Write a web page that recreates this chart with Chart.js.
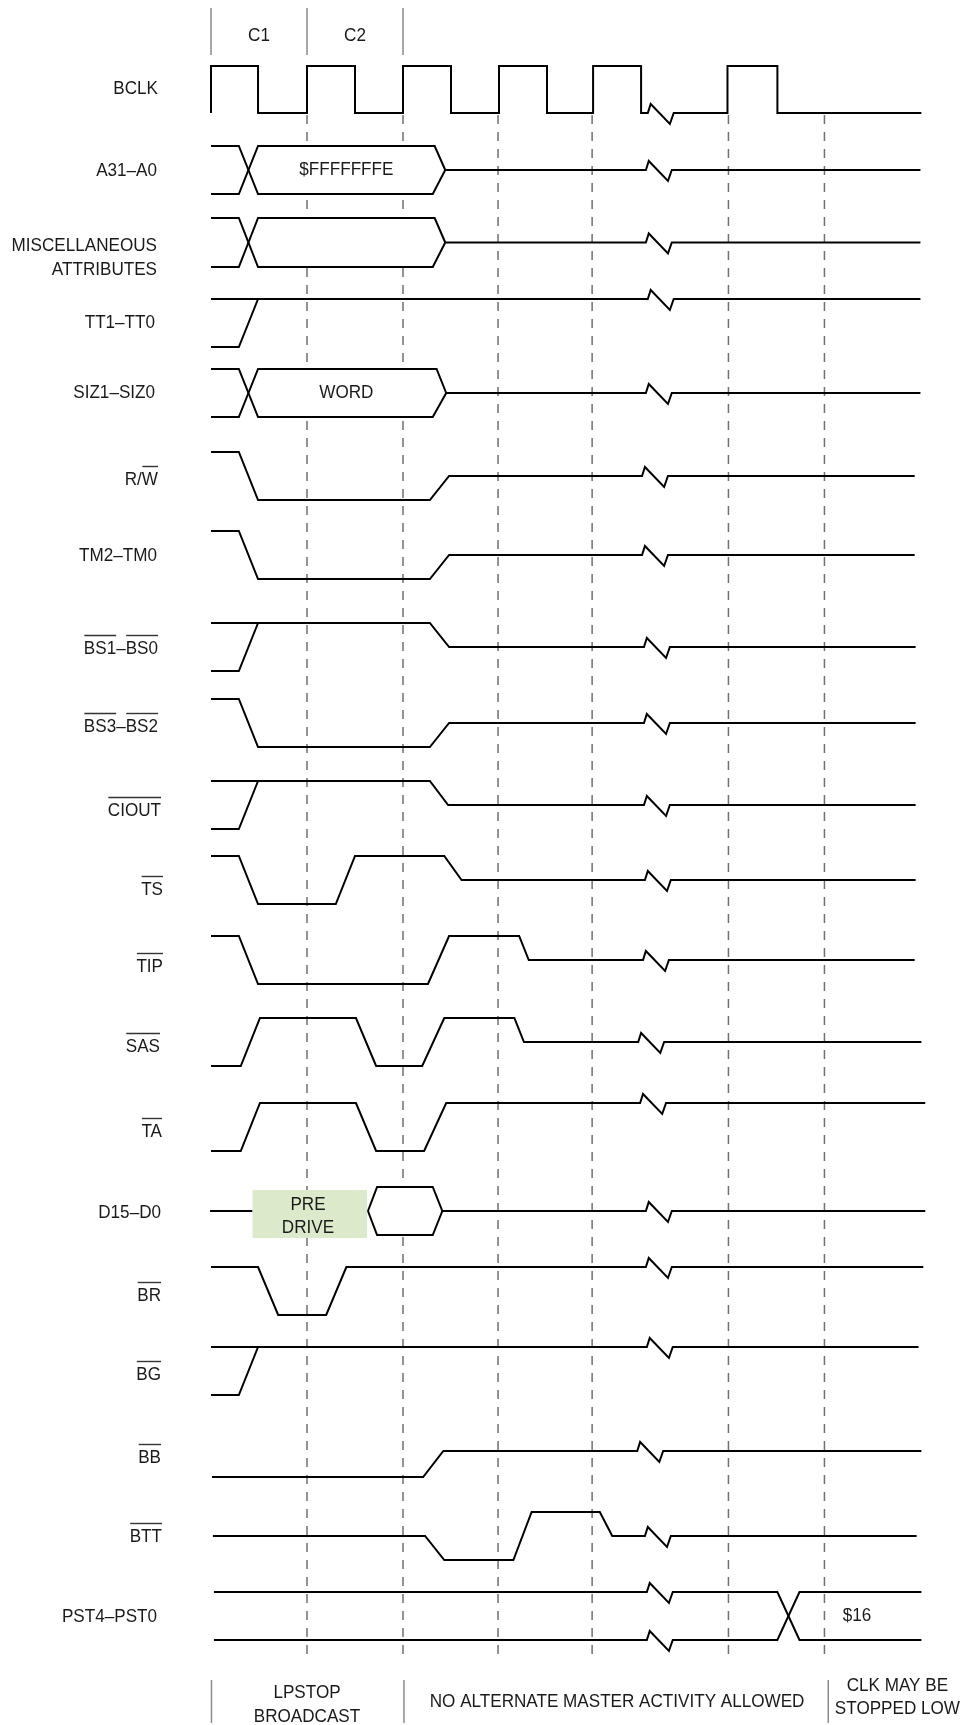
<!DOCTYPE html>
<html>
<head>
<meta charset="utf-8">
<script src="https://cdn.jsdelivr.net/npm/chart.js@4.4.0/dist/chart.umd.min.js"></script>
<style>
html,body{margin:0;padding:0;background:#fff;}
canvas{display:block;}
</style>
</head>
<body>
<canvas id="c" width="966" height="1725"></canvas>
<script>
// ================= DATA =================
// time unit = 1 bus clock cycle (t = 0 at the first BCLK rising edge); level: 1 = high, 0 = low, 0.5 = three-state
const signalLabels = [
  [[['BCLK',0]]],
  [[['A31–A0',0]]],
  [[['MISCELLANEOUS',0]],[['ATTRIBUTES',0]]],
  [[['TT1–TT0',0]]],
  [[['SIZ1–SIZ0',0]]],
  [[['R/',0],['W',1]]],
  [[['TM2–TM0',0]]],
  [[['BS1',1],['–',0],['BS0',1]]],
  [[['BS3',1],['–',0],['BS2',1]]],
  [[['CIOUT',1]]],
  [[['TS',1]]],
  [[['TIP',1]]],
  [[['SAS',1]]],
  [[['TA',1]]],
  [[['D15–D0',0]]],
  [[['BR',1]]],
  [[['BG',1]]],
  [[['BB',1]]],
  [[['BTT',1]]],
  [[['PST4–PST0',0]]]
];

const BCLK = [[[0,0],[0,1],[0.49,1],[0.49,0],[1,0],[1,1],[1.5,1],[1.5,0],[2,0],[2,1],[2.5,1],[2.5,0],[3,0],[3,1],[3.5,1],[3.5,0],[3.98,0],[3.98,1],[4.48,1],[4.48,0],[5.38,0],[5.38,1],[5.9,1],[5.9,0],[7.4,0]]];
const A31_A0 = [[[0,1],[0.29,1],[0.49,0],[2.31,0],[2.44,0.5],[7.39,0.5]], [[0,0],[0.29,0],[0.49,1],[2.33,1],[2.44,0.5]]];
const MISC_ATTR = [[[0,1],[0.29,1],[0.49,0],[2.31,0],[2.44,0.5],[7.39,0.5]], [[0,0],[0.29,0],[0.49,1],[2.33,1],[2.44,0.5]]];
const TT1_TT0 = [[[0,1],[7.39,1]], [[0,0],[0.29,0],[0.49,1]]];
const SIZ1_SIZ0 = [[[0,1],[0.29,1],[0.49,0],[2.31,0],[2.45,0.5],[7.39,0.5]], [[0,0],[0.29,0],[0.49,1],[2.35,1],[2.45,0.5]]];
const R_W = [[[0,1],[0.29,1],[0.49,0],[2.28,0],[2.48,0.5],[7.33,0.5]]];
const TM2_TM0 = [[[0,1],[0.29,1],[0.49,0],[2.28,0],[2.48,0.5],[7.33,0.5]]];
const BS1_BS0 = [[[0,1],[2.28,1],[2.48,0.5],[7.34,0.5]], [[0,0],[0.29,0],[0.49,1]]];
const BS3_BS2 = [[[0,1],[0.29,1],[0.49,0],[2.28,0],[2.48,0.5],[7.34,0.5]]];
const CIOUT = [[[0,1],[2.28,1],[2.47,0.5],[7.34,0.5]], [[0,0],[0.29,0],[0.49,1]]];
const TS = [[[0,1],[0.29,1],[0.49,0],[1.30,0],[1.5,1],[2.43,1],[2.61,0.5],[7.34,0.5]]];
const TIP = [[[0,1],[0.29,1],[0.49,0],[2.26,0],[2.48,1],[3.21,1],[3.31,0.5],[7.33,0.5]]];
const SAS = [[[0,0],[0.31,0],[0.51,1],[1.51,1],[1.72,0],[2.2,0],[2.43,1],[3.16,1],[3.26,0.5],[7.4,0.5]]];
const TA = [[[0,0],[0.31,0],[0.51,1],[1.51,1],[1.72,0],[2.22,0],[2.45,1],[7.44,1]]];
const D15_D0 = [[[-0.01,0.5],[0.43,0.5]], [[1.635,0.5],[1.73,1],[2.31,1],[2.41,0.5],[7.44,0.5]], [[1.635,0.5],[1.73,0],[2.31,0],[2.41,0.5]]];
const BR = [[[0,1],[0.49,1],[0.70,0],[1.20,0],[1.41,1],[7.42,1]]];
const BG = [[[0,1],[7.37,1]], [[0,0],[0.29,0],[0.49,1]], [[2.41,1],[2.57,1]]];
const BB = [[[0.01,0],[2.21,0],[2.42,0.5],[7.4,0.5]]];
const BTT = [[[0.02,0.5],[2.23,0.5],[2.43,0],[3.15,0],[3.34,1],[4.05,1],[4.18,0.5],[7.35,0.5]]];
const PST4_PST0 = [[[0.03,1],[5.9,1],[6.13,0],[7.4,0]], [[0.03,0],[5.9,0],[6.13,1],[7.4,1]]];

const waves = [BCLK, A31_A0, MISC_ATTR, TT1_TT0, SIZ1_SIZ0, R_W, TM2_TM0, BS1_BS0, BS3_BS2, CIOUT, TS, TIP, SAS, TA, D15_D0, BR, BG, BB, BTT, PST4_PST0];
// time-axis break (the zigzag) per signal
const breakAt = [4.55, 4.53, 4.53, 4.55, 4.53, 4.49, 4.49, 4.51, 4.51, 4.51, 4.52, 4.50, 4.45, 4.47, 4.53, 4.53, 4.54, 4.44, 4.52, 4.54];
// valid bus windows (hexagon interiors): [signal, tCross, tLeft, tTopEnd, tBotEnd, tRight]
const busWindows = [[1,0.39,0.49,2.33,2.31,2.44],[2,0.39,0.49,2.33,2.31,2.44],[4,0.39,0.49,2.35,2.31,2.45],[14,1.635,1.73,2.31,2.31,2.41]];
const busValues = [[1,1.41,'$FFFFFFFE'],[4,1.41,'WORD'],[19,6.73,'$16']];
const preDrive = {sig:14, t0:0.43, t1:1.625, top:0.94, bottom:-0.06, t:1.01, text:['PRE','DRIVE']};
const clockCycles = ['C1','C2'];
const cycleEdges = [0,1,2];
const refEdges = [1,2,2.99,3.97,5.39,6.39];
const phaseEdges = [0.005,2.01,6.43];
const phaseTexts = [[1.0,['LPSTOP','BROADCAST']],[4.23,['NO ALTERNATE MASTER ACTIVITY ALLOWED']],[7.15,['CLK MAY BE','STOPPED LOW']]];

// ================= LAYOUT =================
const X0 = -211/96, X1 = 755/96;
const lanes = [[66,113],[146,194],[218,267],[299,347],[369,417],[452,500],[531,579],[623,671],[699,747],[781,829],[856,904],[936,984],[1018,1066],[1103,1151],[1187,1235],[1267,1315],[1347,1395],[1425,1477],[1512,1560],[1592,1640]];
const labelY = [[89],[171],[246,270],[323],[393],[480],[556],[649],[727],[811],[890],[967],[1047],[1132],[1213],[1296],[1375],[1458],[1537],[1617]];
const labelRight = [158,157,157,155,155,158,157,158,158,161,163,163,160,162,161,161,161,161,162,157];
const preDriveTextY = [1205,1228];
const phaseTextY = [[1693,1717],[1702],[1686,1709]];
const topMarkY = [8,55], cycleTextY = 36;
const refSpan = [115,1658];
const phaseMarkY = [1680,1723];
const ZIG = [[0,0],[0.03,-9],[0.23,11],[0.27,0]];
const FONT = '19px "Liberation Sans", Arial, Helvetica, sans-serif';
const SX = 0.9;

// ================= BUILD =================
function yOf(sig, level, dy){ const [hi,lo]=lanes[sig]; return lo + (hi-lo)*level + (dy||0); }
function withBreak(poly, tb){
  const out=[];
  for(let i=0;i<poly.length;i++){
    const a=poly[i], b=poly[i+1];
    out.push([a[0],a[1],0]);
    if(b && a[1]===b[1] && a[0]<tb && b[0]>tb+0.27){
      for(const [dx,dy] of ZIG) out.push([tb+dx,a[1],dy]);
    }
  }
  return out;
}
const datasets=[];
function add(data, o){ datasets.push(Object.assign({data, borderColor:'#000', borderWidth:2, pointRadius:0, pointHoverRadius:0, fill:false, tension:0, order:1, borderJoinStyle:'miter', borderCapStyle:'butt', spanGaps:false}, o||{})); }

// reference dashed edges
refEdges.forEach(t=>add([{x:t,y:refSpan[0]},{x:t,y:refSpan[1]}],{borderColor:'#707070',borderWidth:1.5,borderDash:[9,8],order:5}));
// clock cycle marks (top) and phase marks (bottom)
cycleEdges.forEach(t=>add([{x:t,y:topMarkY[0]},{x:t,y:topMarkY[1]}],{borderColor:'#8c8c8c',borderWidth:1.5,order:5}));
phaseEdges.forEach(t=>add([{x:t,y:phaseMarkY[0]},{x:t,y:phaseMarkY[1]}],{borderColor:'#8c8c8c',borderWidth:1.5,order:5}));
// bus interiors (white, hide the dashes)
busWindows.forEach(([s,tc,tl,tt,tbm,tr])=>{
  add([{x:tc,y:yOf(s,0.5)},{x:tl,y:yOf(s,1)},{x:tt,y:yOf(s,1)},{x:tr,y:yOf(s,0.5)}],{borderWidth:0,borderColor:'rgba(0,0,0,0)',backgroundColor:'#ffffff',fill:'+1',order:3});
  add([{x:tc,y:yOf(s,0.5)},{x:tl,y:yOf(s,0)},{x:tbm,y:yOf(s,0)},{x:tr,y:yOf(s,0.5)}],{borderWidth:0,borderColor:'rgba(0,0,0,0)',order:3});
});
// pre-drive highlight
add([{x:preDrive.t0,y:yOf(preDrive.sig,preDrive.top)},{x:preDrive.t1,y:yOf(preDrive.sig,preDrive.top)}],{borderWidth:0,borderColor:'rgba(0,0,0,0)',backgroundColor:'#dceacb',fill:'+1',order:2});
add([{x:preDrive.t0,y:yOf(preDrive.sig,preDrive.bottom)},{x:preDrive.t1,y:yOf(preDrive.sig,preDrive.bottom)}],{borderWidth:0,borderColor:'rgba(0,0,0,0)',order:2});
// waveforms
waves.forEach((polys,s)=>{
  polys.forEach(p=>{
    const pts = withBreak(p, breakAt[s]).map(([t,l,dy])=>({x:t,y:yOf(s,l,dy)}));
    add(pts,{});
  });
});

function txt(ctx,s,x,y,align){
  ctx.save(); ctx.translate(x,y); ctx.scale(SX,1);
  ctx.textAlign=align; ctx.textBaseline='middle'; ctx.fillText(s,0,0); ctx.restore();
}
const textPlugin = {
  id:'timingText',
  afterDraw(chart){
    const ctx=chart.ctx, xs=chart.scales.x, ys=chart.scales.y;
    const px=t=>xs.getPixelForValue(t), py=v=>ys.getPixelForValue(v);
    ctx.save();
    ctx.font=FONT; ctx.fillStyle='#1a1a1a'; ctx.strokeStyle='#333';
    // signal labels
    signalLabels.forEach((lines,i)=>{
      lines.forEach((parts,k)=>{
        const y=py(labelY[i][k]);
        const widths=parts.map(p=>ctx.measureText(p[0]).width*SX);
        let x=labelRight[i]-widths.reduce((a,b)=>a+b,0);
        parts.forEach((p,j)=>{
          txt(ctx,p[0],x,y,'left');
          if(p[1]){ ctx.lineWidth=1.4; ctx.beginPath(); ctx.moveTo(x+0.5,y-13.5); ctx.lineTo(x+widths[j],y-13.5); ctx.stroke(); }
          x+=widths[j];
        });
      });
    });
    // bus values
    busValues.forEach(([s,t,v])=>txt(ctx,v,px(t),py(yOf(s,0.5)),'center'));
    // pre drive
    preDrive.text.forEach((v,k)=>txt(ctx,v,px(preDrive.t),py(preDriveTextY[k]),'center'));
    // clock cycle names
    clockCycles.forEach((c,k)=>txt(ctx,c,px((cycleEdges[k]+cycleEdges[k+1])/2),py(cycleTextY),'center'));
    // phase texts
    phaseTexts.forEach(([t,ls],k)=>ls.forEach((v,j)=>txt(ctx,v,px(t),py(phaseTextY[k][j]),'center')));
    ctx.restore();
  }
};

new Chart(document.getElementById('c'),{
  type:'line',
  data:{datasets},
  options:{
    responsive:false, animation:false, events:[],
    layout:{padding:0},
    plugins:{legend:{display:false},tooltip:{enabled:false},filler:{propagate:false}},
    scales:{
      x:{type:'linear',min:X0,max:X1,display:false},
      y:{type:'linear',min:0,max:1725,reverse:true,display:false}
    }
  },
  plugins:[textPlugin]
});
</script>
</body>
</html>
